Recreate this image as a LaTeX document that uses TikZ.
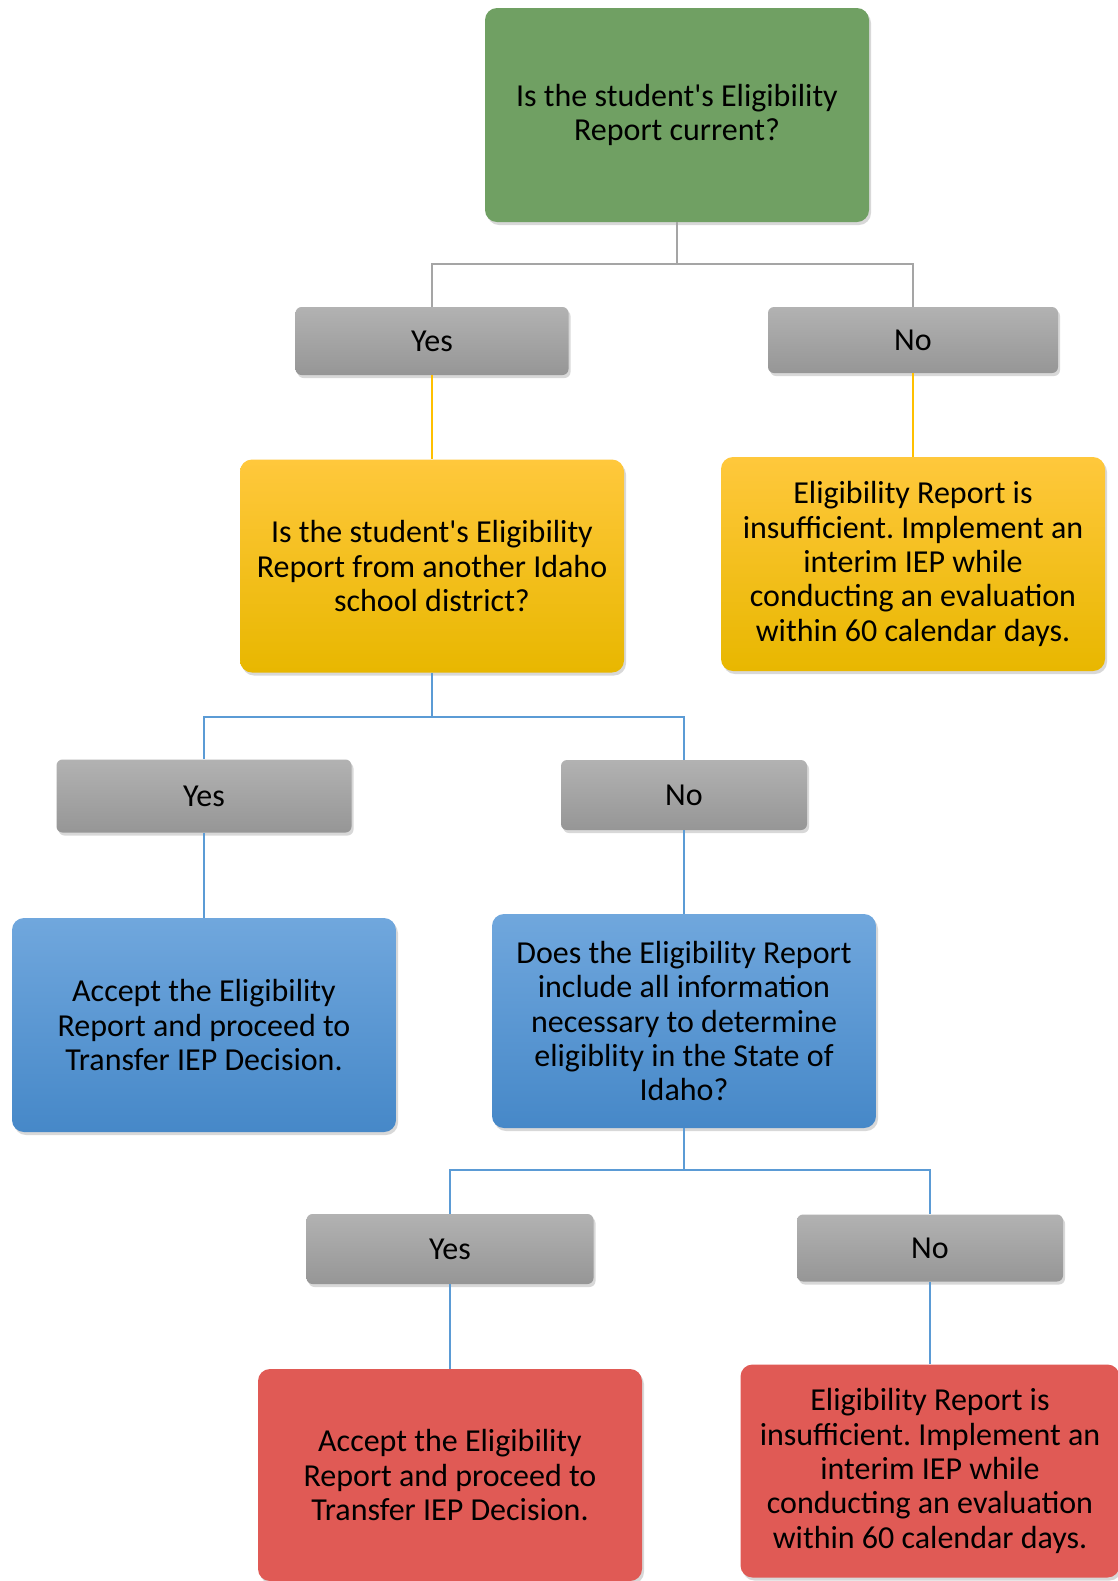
\documentclass[tikz,border=0pt]{standalone}
\usepackage{fontspec}
\setmainfont{Carlito}
\usetikzlibrary{shadows}
\frenchspacing
\definecolor{qgreen}{RGB}{112,160,99}
\definecolor{ytop}{RGB}{255,200,60}
\definecolor{ybot}{RGB}{232,183,0}
\definecolor{btop}{RGB}{112,167,221}
\definecolor{bbot}{RGB}{70,136,200}
\definecolor{rfill}{RGB}{224,90,85}
\definecolor{gtop}{RGB}{178,178,178}
\definecolor{gbot}{RGB}{150,150,150}
\definecolor{lgray}{RGB}{165,165,165}
\definecolor{lyell}{RGB}{255,192,0}
\definecolor{lblue}{RGB}{91,155,213}
\tikzset{
  bigbox/.style={rounded corners=6pt, align=center, inner sep=0pt,
    minimum width=192pt, minimum height=107pt,
    font=\fontsize{16}{17.2}\selectfont,
    drop shadow={shadow xshift=1pt, shadow yshift=-1.5pt, opacity=.3}},
  answer/.style={rounded corners=3pt, align=center, inner sep=0pt,
    minimum height=34pt, top color=gtop, bottom color=gbot,
    font=\fontsize{16}{17.2}\selectfont,
    drop shadow={shadow xshift=1pt, shadow yshift=-1.5pt, opacity=.3}},
  greenbox/.style={bigbox, fill=qgreen},
  yellowbox/.style={bigbox, top color=ytop, bottom color=ybot},
  bluebox/.style={bigbox, top color=btop, bottom color=bbot},
  redbox/.style={bigbox, fill=rfill},
  link/.style={line width=1pt}
}
\begin{document}
\begin{tikzpicture}[x=0.5pt, y=-0.5pt]
\useasboundingbox[fill=white] (0,0) rectangle (1118,1581);

% first question
\node[greenbox] (q1) at (677,115) {Is the student\textquotesingle s Eligibility\\Report current?};
\node[answer, minimum width=136.5pt] (y1) at (432,341) {Yes};
\node[answer, minimum width=145pt, minimum height=33pt] (n1) at (913,340) {No};
\coordinate (j1) at (677,264);
\draw[link, lgray] (q1.south) -- (j1) -| (y1.north);
\draw[link, lgray] (j1) -| (n1.north);

% second question
\node[yellowbox, minimum height=106.5pt] (q2) at (432,566) {Is the student\textquotesingle s Eligibility\\Report from another Idaho\\school district?};
\node[yellowbox] (r1) at (913,564) {Eligibility Report is\\insufficient. Implement an\\interim IEP while\\conducting an evaluation\\within 60 calendar days.};
\draw[link, lyell] (y1) -- (q2);
\draw[link, lyell] (n1) -- (r1);

\node[answer, minimum width=147.5pt, minimum height=36.5pt] (y2) at (204,796) {Yes};
\node[answer, minimum width=123pt, minimum height=35pt] (n2) at (684,795) {No};
\coordinate (j2) at (432,717);
\draw[link, lblue] (q2.south) -- (j2) -| (y2.north);
\draw[link, lblue] (j2) -| (n2.north);

% third question
\node[bluebox] (a1) at (204,1025) {Accept the Eligibility\\Report and proceed to\\Transfer IEP Decision.};
\node[bluebox] (q3) at (684,1021) {Does the Eligibility Report\\include all information\\necessary to determine\\eligiblity in the State of\\Idaho?};
\draw[link, lblue] (y2) -- (a1);
\draw[link, lblue] (n2) -- (q3);

\node[answer, minimum width=143.5pt, minimum height=35pt] (y3) at (450,1249) {Yes};
\node[answer, minimum width=133pt, minimum height=33.5pt] (n3) at (930,1248) {No};
\coordinate (j3) at (684,1170);
\draw[link, lblue] (q3.south) -- (j3) -| (y3.north);
\draw[link, lblue] (j3) -| (n3.north);

\node[redbox, minimum height=106pt] (a2) at (450,1475) {Accept the Eligibility\\Report and proceed to\\Transfer IEP Decision.};
\node[redbox, minimum width=189.5pt, minimum height=106.5pt] (r2) at (930,1471) {Eligibility Report is\\insufficient. Implement an\\interim IEP while\\conducting an evaluation\\within 60 calendar days.};
\draw[link, lblue] (y3) -- (a2);
\draw[link, lblue] (n3) -- (r2);
\end{tikzpicture}
\end{document}
